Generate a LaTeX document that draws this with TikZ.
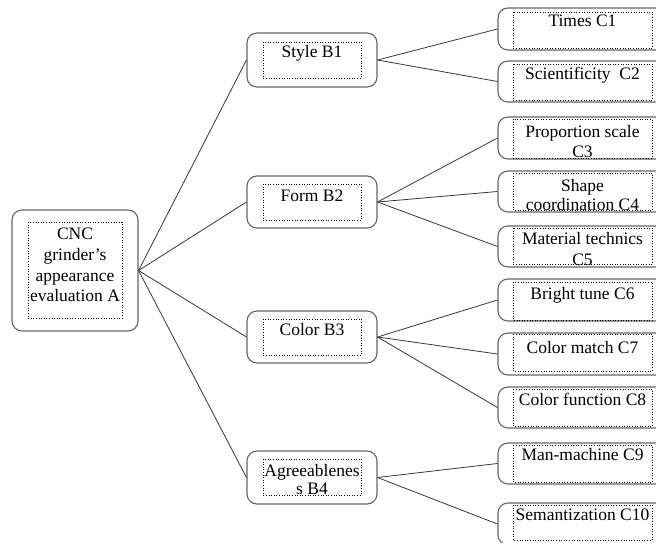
\documentclass[tikz,border=0pt]{standalone}
\usepackage{fontspec}
\setmainfont{Liberation Serif}
\newcommand\innerbox[5]{%
  \draw[ibox] (#1,#2) rectangle (#3,#4);
  \begin{scope}\clip (#1,#2) rectangle (#3,#4+1);#5\end{scope}}
\begin{document}
\begin{tikzpicture}[x=1pt,y=-1pt,
  obox/.style={draw=black!60, line width=1.1pt, rounded corners=10pt, inner sep=0pt},
  ibox/.style={draw=black, dotted, line width=0.6pt},
  conn/.style={draw=black!78, line width=0.8pt},
  lbl/.style={inner sep=0pt, anchor=base, yshift=-1.5pt, font=\fontsize{17.5}{20}\selectfont}]
\useasboundingbox (0,0) rectangle (656,543);
\clip (0,0) rectangle (656,543);
% A
\node[obox, minimum width=126pt, minimum height=121pt] (A) at (75,270.5) {};
\innerbox{28}{222}{122}{318}{%
  \node[lbl] (tA1) at (75,237.5) {CNC};
  \node[lbl] (tA2) at (75,258.5) {grinder’s};
  \node[lbl] (tA3) at (75,280) {appearance};
  \node[lbl] (tA4) at (75,299.5) {evaluation A};}
% B boxes
\node[obox, minimum width=130pt, minimum height=54pt] (B1) at (312,60) {};
\node[obox, minimum width=130pt, minimum height=52pt] (B2) at (312,202) {};
\node[obox, minimum width=130pt, minimum height=52pt] (B3) at (312,337) {};
\node[obox, minimum width=130pt, minimum height=53pt] (B4) at (312,477.5) {};
\innerbox{263}{42}{361}{78}{\node[lbl] (tB1) at (312,56.5) {Style B1};}
\innerbox{263}{184}{361}{220}{\node[lbl] (tB2) at (312,199.5) {Form B2};}
\innerbox{263}{319}{361}{355}{\node[lbl] (tB3) at (312,333.5) {Color B3};}
\innerbox{263}{459}{361}{495}{%
  \node[lbl] (tB4a) at (312,474.5) {Agreeablenes};
  \node[lbl] (tB4b) at (312,493) {s B4};}
% C boxes
\node[obox, minimum width=182pt, minimum height=42pt] (C1) at (589,29) {};
\node[obox, minimum width=182pt, minimum height=41pt] (C2) at (589,81.5) {};
\node[obox, minimum width=182pt, minimum height=42pt] (C3) at (589,138) {};
\node[obox, minimum width=182pt, minimum height=41pt] (C4) at (589,191.5) {};
\node[obox, minimum width=182pt, minimum height=41pt] (C5) at (589,246.5) {};
\node[obox, minimum width=182pt, minimum height=42pt] (C6) at (589,300) {};
\node[obox, minimum width=182pt, minimum height=42pt] (C7) at (589,354) {};
\node[obox, minimum width=182pt, minimum height=41pt] (C8) at (589,407.5) {};
\node[obox, minimum width=182pt, minimum height=41pt] (C9) at (589,463.5) {};
\node[obox, minimum width=182pt, minimum height=42pt] (C10) at (589,524) {};
\innerbox{513}{12}{652}{48}{\node[lbl] (tC1) at (582.5,25.5) {Times C1};}
\innerbox{513}{64}{652}{100}{\node[lbl] (tC2) at (582.5,78.5) {Scientificity\ \ C2};}
\innerbox{513}{119}{652}{158}{%
  \node[lbl] (tC3a) at (582.5,135.5) {Proportion scale};
  \node[lbl] (tC3b) at (582.5,156) {C3};}
\innerbox{513}{173}{652}{210}{%
  \node[lbl] (tC4a) at (582.5,189.5) {Shape};
  \node[lbl] (tC4b) at (582.5,208.5) {coordination C4};}
\innerbox{513}{228}{652}{264}{%
  \node[lbl] (tC5a) at (582.5,242.5) {Material technics};
  \node[lbl] (tC5b) at (582.5,263.5) {C5};}
\innerbox{513}{282}{652}{320}{\node[lbl] (tC6) at (582.5,297.5) {Bright tune C6};}
\innerbox{513}{334}{652}{371}{\node[lbl] (tC7) at (582.5,351.5) {Color match C7};}
\innerbox{513}{389}{652}{426}{\node[lbl] (tC8) at (582.5,403.5) {Color function C8};}
\innerbox{513}{445}{652}{482}{\node[lbl] (tC9) at (582.5,458.5) {Man-machine C9};}
\innerbox{513}{505}{652}{540}{\node[lbl] (tC10) at (582.5,518.5) {Semantization C10};}
% connectors
\foreach \b in {B1,B2,B3,B4} \draw[conn] (A.east) -- (\b.west);
\foreach \c in {C1,C2} \draw[conn] (B1.east) -- (\c.west);
\foreach \c in {C3,C4,C5} \draw[conn] (B2.east) -- (\c.west);
\foreach \c in {C6,C7,C8} \draw[conn] (B3.east) -- (\c.west);
\foreach \c in {C9,C10} \draw[conn] (B4.east) -- (\c.west);
\end{tikzpicture}
\end{document}
